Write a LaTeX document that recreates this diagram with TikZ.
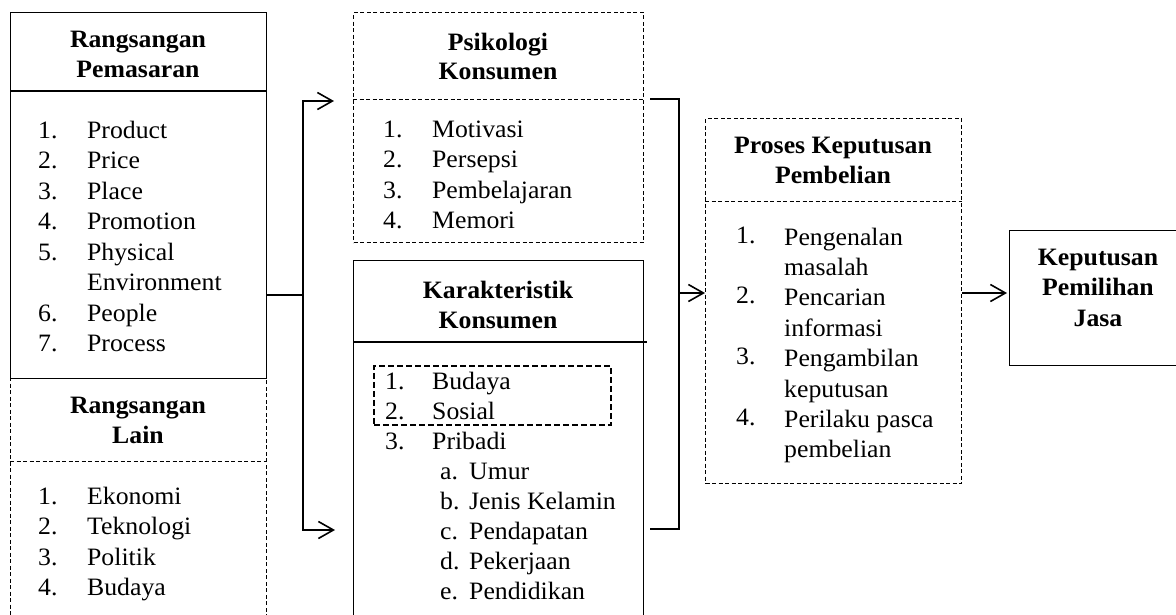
\documentclass[tikz,border=0pt]{standalone}
\usepackage{fontspec}
\setmainfont{Liberation Serif}[FakeStretch=1.03]
\usetikzlibrary{arrows.meta}
\newcommand\numbox[2]{\makebox[#1][l]{#2}}
\begin{document}
\begin{tikzpicture}[x=1pt,y=-1pt,
  box/.style={draw, line width=1.2pt, inner sep=0pt, anchor=north west},
  dbox/.style={draw, line width=1pt, dash pattern=on 4pt off 2.5pt, inner sep=0pt, anchor=north west},
  sep/.style={line width=1.2pt},
  dsep/.style={line width=1pt, dash pattern=on 4pt off 2.5pt},
  conn/.style={line width=2pt},
  arr/.style={conn, -{Straight Barb[length=15pt,width=17pt,line width=1.6pt]}},
  barr/.style={conn, {Straight Barb[length=15pt,width=17pt,line width=1.6pt]}-{Straight Barb[length=15pt,width=17pt,line width=1.6pt]}},
  txt/.style={inner sep=0pt, anchor=base west, font=\fontsize{25}{30.5}\selectfont},
  hdr/.style={inner sep=0pt, anchor=base, font=\fontsize{25}{30}\selectfont\bfseries}
]
\useasboundingbox (0,0) rectangle (1176,614);

% boxes
\node[box, minimum width=256pt, minimum height=366pt] (rp) at (10,12) {};
\node[dbox, minimum width=256pt, minimum height=250pt] (rl) at (10,378) {};
\node[dbox, minimum width=290pt, minimum height=230pt] (pk) at (353,12) {};
\node[box, minimum width=290pt, minimum height=370pt] (kk) at (353,260) {};
\node[draw, line width=1.8pt, dash pattern=on 6pt off 3pt, inner sep=0pt, anchor=north west, minimum width=237pt, minimum height=59pt] (bs) at (373,365) {};
\node[dbox, minimum width=256pt, minimum height=365pt] (pr) at (705,118) {};
\node[box, minimum width=168pt, minimum height=135pt] (kp) at (1009,230) {};

% separators
\draw[sep] (rp.west |- 0,91) -- (rp.east |- 0,91);
\draw[dsep] (rl.west |- 0,461) -- (rl.east |- 0,461);
\draw[dsep] (pk.west |- 0,99) -- (pk.east |- 0,99);
\draw[sep] (kk.west |- 0,342) -- ([xshift=3pt]kk.east |- 0,342);
\draw[dsep] (pr.west |- 0,201) -- (pr.east |- 0,201);

% connectors
\coordinate (ja) at (303,295);
\coordinate (jt) at (303,101);
\coordinate (jb) at (303,530);
\coordinate (at) at (334,101);
\coordinate (ab) at (335,530);
\draw[conn] (rp.east |- ja) -- (ja);
\draw[barr, line join=miter] (at) -- (jt) -- (jb) -- (ab);

\coordinate (rt) at (650,99);
\coordinate (rtc) at (679,99);
\coordinate (rbc) at (679,529);
\coordinate (rb) at (650,529);
\coordinate (jr) at (679,293);
\draw[conn, line join=miter] (rt) -- (rtc) -- (rbc) -- (rb);
\draw[arr] (jr) -- (pr.west |- jr);
\draw[arr, shorten >=2pt] (pr.east |- jr) -- (kp.west |- jr);

% texts
\node[hdr] (rph) at (138,47) {\begin{tabular}[t]{@{}c@{}}Rangsangan\\Pemasaran\end{tabular}};
\node[txt] (rpl) at (38,138) {\begin{tabular}[t]{@{}l@{}}
\numbox{49pt}{1.}Product\\
\numbox{49pt}{2.}Price\\
\numbox{49pt}{3.}Place\\
\numbox{49pt}{4.}Promotion\\
\numbox{49pt}{5.}Physical\\
\numbox{49pt}{}Environment\\
\numbox{49pt}{6.}People\\
\numbox{49pt}{7.}Process
\end{tabular}};

\node[hdr] (rlh) at (138,413) {\begin{tabular}[t]{@{}c@{}}Rangsangan\\Lain\end{tabular}};
\node[txt] (rll) at (38,504) {\begin{tabular}[t]{@{}l@{}}
\numbox{49pt}{1.}Ekonomi\\
\numbox{49pt}{2.}Teknologi\\
\numbox{49pt}{3.}Politik\\
\numbox{49pt}{4.}Budaya
\end{tabular}};

\node[hdr, font=\fontsize{25}{29.5}\selectfont\bfseries] (pkh) at (498,50) {\begin{tabular}[t]{@{}c@{}}Psikologi\\Konsumen\end{tabular}};
\node[txt] (pkl) at (383,137) {\begin{tabular}[t]{@{}l@{}}
\numbox{49pt}{1.}Motivasi\\
\numbox{49pt}{2.}Persepsi\\
\numbox{49pt}{3.}Pembelajaran\\
\numbox{49pt}{4.}Memori
\end{tabular}};

\node[hdr] (kkh) at (498,298) {\begin{tabular}[t]{@{}c@{}}Karakteristik\\Konsumen\end{tabular}};
\node[txt, font=\fontsize{25}{30.1}\selectfont] (kkl) at (385,389) {\begin{tabular}[t]{@{}l@{}}
\numbox{47pt}{1.}Budaya\\
\numbox{47pt}{2.}Sosial\\
\numbox{47pt}{3.}Pribadi\\
\hspace{55pt}\numbox{29pt}{a.}Umur\\
\hspace{55pt}\numbox{29pt}{b.}Jenis Kelamin\\
\hspace{55pt}\numbox{29pt}{c.}Pendapatan\\
\hspace{55pt}\numbox{29pt}{d.}Pekerjaan\\
\hspace{55pt}\numbox{29pt}{e.}Pendidikan
\end{tabular}};

\node[hdr] (prh) at (833,153) {\begin{tabular}[t]{@{}c@{}}Proses Keputusan\\Pembelian\end{tabular}};
\node[txt, font=\fontsize{25}{30.4}\selectfont] (prl) at (736,245) {\begin{tabular}[t]{@{}l@{}}
\numbox{48pt}{\raisebox{2pt}{1.}}Pengenalan\\
\numbox{48pt}{}masalah\\
\numbox{48pt}{\raisebox{2pt}{2.}}Pencarian\\
\numbox{48pt}{}informasi\\
\numbox{48pt}{\raisebox{2pt}{3.}}Pengambilan\\
\numbox{48pt}{}keputusan\\
\numbox{48pt}{\raisebox{2pt}{4.}}Perilaku pasca\\
\numbox{48pt}{}pembelian
\end{tabular}};

\node[hdr, font=\fontsize{25}{30.5}\selectfont\bfseries] (kph) at (1098,265) {\begin{tabular}[t]{@{}c@{}}Keputusan\\Pemilihan\\Jasa\end{tabular}};
\end{tikzpicture}
\end{document}
